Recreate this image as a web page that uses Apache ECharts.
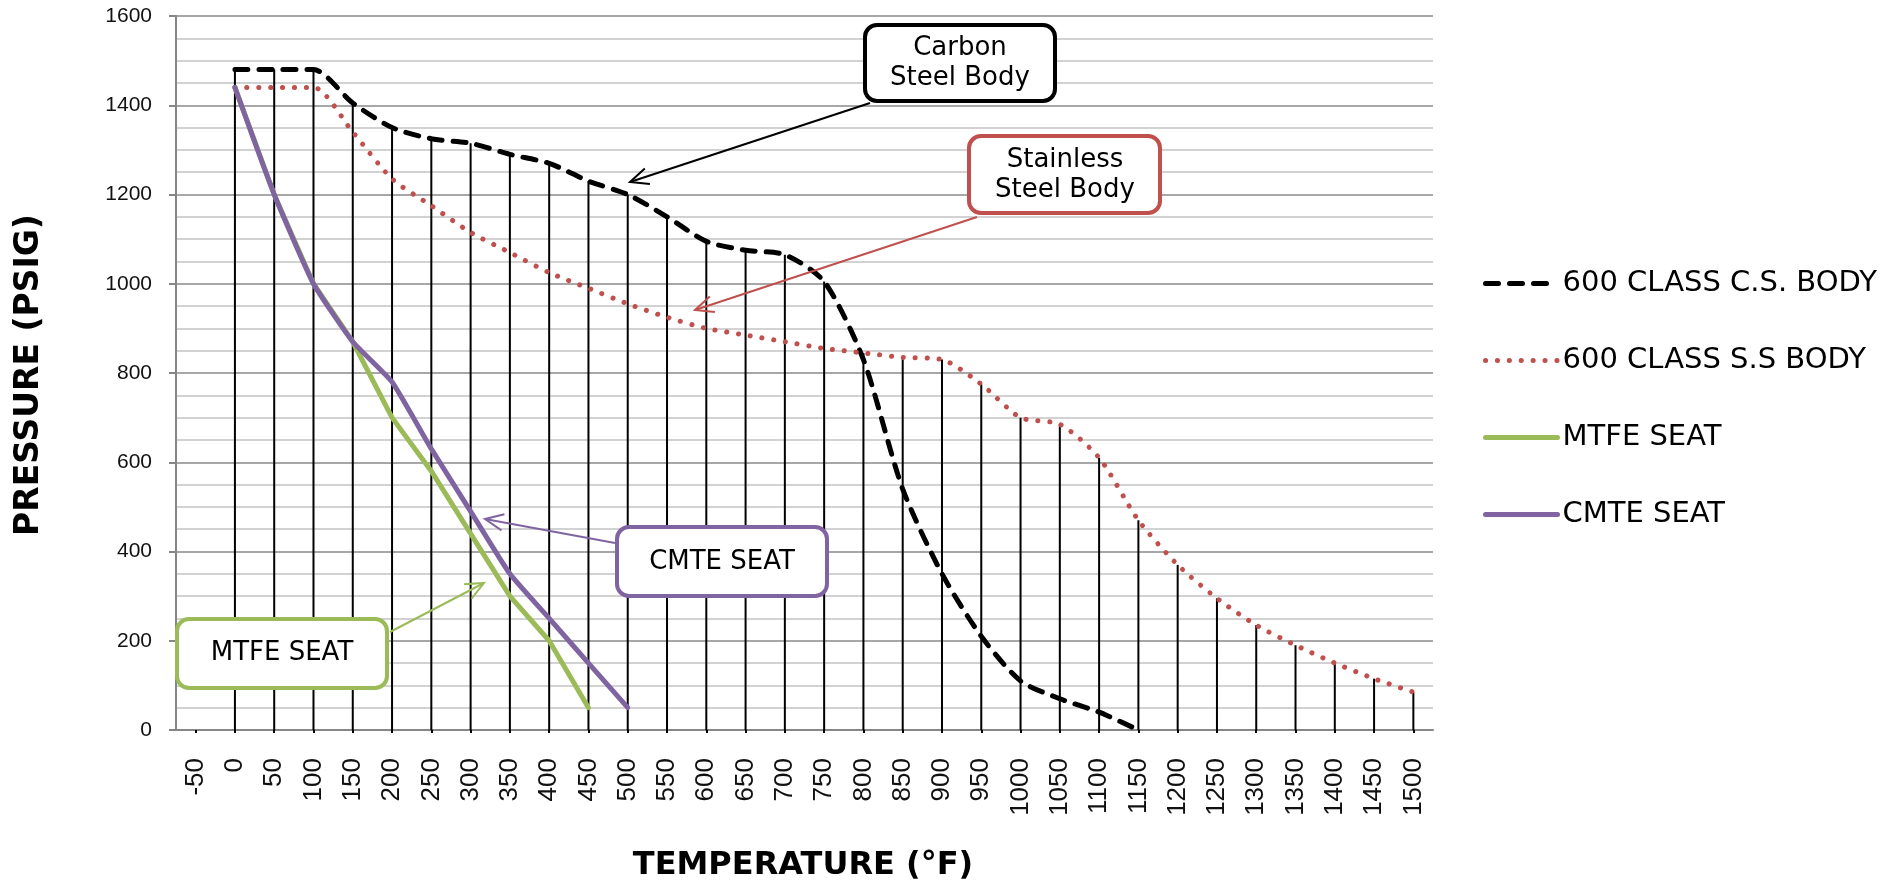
<!DOCTYPE html>
<html><head><meta charset="utf-8">
<script src="https://cdn.jsdelivr.net/npm/echarts@6/dist/echarts.min.js"></script>
<style>html,body{margin:0;padding:0;background:#fff}#c{width:1898px;height:884px}</style>
</head><body><div id="c"></div>
<script>
const categories = ['-50','0','50','100','150','200','250','300','350','400','450','500','550','600','650','700','750','800','850','900','950','1000','1050','1100','1150','1200','1250','1300','1350','1400','1450','1500'];
const csBody = [null,1480,1480,1480,1405,1350,1325,1315,1290,1270,1230,1200,1150,1095,1075,1065,1005,830,540,350,210,110,70,40,0,null,null,null,null,null,null,null];
const ssBody = [null,1440,1440,1440,1340,1235,1175,1115,1070,1025,990,955,925,900,885,870,855,845,835,830,775,700,685,610,470,370,295,235,190,150,115,85];
const mtfeSeat = [null,1440,1200,1000,870,700,580,440,300,200,50,null,null,null,null,null,null,null,null,null,null,null,null,null,null,null,null,null,null,null,null,null];
const cmteSeat = [null,1440,1200,1000,870,780,630,490,350,250,150,50,null,null,null,null,null,null,null,null,null,null,null,null,null,null,null,null,null,null,null,null];
const yTicks = {min:0, max:1600, interval:200};

const dropLines = categories.map((c,i)=>{
  const v=[csBody[i],ssBody[i],mtfeSeat[i],cmteSeat[i]].filter(x=>x!=null);
  return v.length?Math.max(...v):null;
});

function arrow(x1,y1,x2,y2,color,w){
  const a=Math.atan2(y2-y1,x2-x1), L=20, ang=0.42;
  return [
    {type:'line',z:100,shape:{x1,y1,x2,y2},style:{stroke:color,lineWidth:w}},
    {type:'polyline',z:100,shape:{points:[[x2-L*Math.cos(a-ang),y2-L*Math.sin(a-ang)],[x2,y2],[x2-L*Math.cos(a+ang),y2-L*Math.sin(a+ang)]]},style:{stroke:color,lineWidth:w,fill:null}}
  ];
}
function box(x,y,w,h,color,text,cx,cy){
  return [
    {type:'rect',z:101,shape:{x,y,width:w,height:h,r:12},style:{fill:'#fff',stroke:color,lineWidth:4}},
    {type:'text',z:102,x:cx,y:cy,style:{text,fill:'#000',font:'26px "DejaVu Sans"',align:'center',verticalAlign:'middle',lineHeight:30}}
  ];
}

const chart = echarts.init(document.getElementById('c'));
const axisGray='#868686';
chart.setOption({
  animation:false,
  grid:{left:176,right:465,top:16,bottom:154,containLabel:false},
  legend:{
    orient:'vertical',left:1483,top:269,itemWidth:72,itemHeight:14,itemGap:48,padding:0,
    itemStyle:{opacity:0},
    lineStyle:{width:5,cap:'round'},
    data:['600 CLASS C.S. BODY','600 CLASS S.S BODY','MTFE SEAT','CMTE SEAT'],
    textStyle:{fontFamily:'DejaVu Sans',fontSize:29,color:'#000',lineHeight:29}
  },
  xAxis:{
    type:'category',data:categories,boundaryGap:true,
    axisLine:{lineStyle:{color:axisGray,width:2}},
    axisTick:{show:true,alignWithLabel:true,length:3,lineStyle:{color:'#000',width:2}},
    axisLabel:{rotate:90,interval:0,margin:28,fontSize:26,fontFamily:'Liberation Sans',color:'#111'},
    splitLine:{show:false}
  },
  yAxis:{
    type:'value',min:yTicks.min,max:yTicks.max,interval:yTicks.interval,
    axisLine:{show:true,lineStyle:{color:axisGray,width:2}},
    axisTick:{show:true,length:7,lineStyle:{color:axisGray,width:2}},
    axisLabel:{margin:24,fontSize:21,fontFamily:'Liberation Sans',color:'#111',formatter:v=>String(v)},
    splitLine:{lineStyle:{color:'#8a8a8a',width:1.5}},
    minorTick:{show:false,splitNumber:4},
    minorSplitLine:{show:true,lineStyle:{color:'#c4c4c4',width:1.5}}
  },
  series:[
    {name:'drop',type:'bar',data:dropLines,barWidth:2,z:1,itemStyle:{color:'#000'},silent:true},
    {name:'600 CLASS C.S. BODY',type:'line',data:csBody,showSymbol:false,symbol:'none',smooth:0.25,
     lineStyle:{color:'#000',width:5,type:[13,11],cap:'round'},itemStyle:{color:'#000'}},
    {name:'600 CLASS S.S BODY',type:'line',data:ssBody,showSymbol:false,symbol:'none',smooth:0.25,
     lineStyle:{color:'#c0504d',width:5,type:[0.1,11.8],cap:'round'},itemStyle:{color:'#c0504d'}},
    {name:'MTFE SEAT',type:'line',data:mtfeSeat,showSymbol:false,symbol:'none',
     lineStyle:{color:'#9bbb59',width:5,cap:'round'},itemStyle:{color:'#9bbb59'}},
    {name:'CMTE SEAT',type:'line',data:cmteSeat,showSymbol:false,symbol:'none',smooth:0.15,
     lineStyle:{color:'#8064a2',width:5,cap:'round'},itemStyle:{color:'#8064a2'}}
  ],
  graphic:[
    ...arrow(870,103,630,182,'#000',2),
    ...arrow(977,217,695,310,'#c0504d',2),
    ...arrow(615,543,485,519,'#8064a2',2),
    ...arrow(390,632,484,583,'#9bbb59',2),
    ...box(865,25,190,76,'#000','Carbon\nSteel Body',960,63),
    ...box(969,136,191,77,'#c0504d','Stainless\nSteel Body',1065,175),
    ...box(617,527,210,69,'#8064a2','CMTE SEAT',722,562),
    ...box(177,619,210,69,'#9bbb59','MTFE SEAT',282,653),
    {type:'text',x:803,y:866,style:{text:'TEMPERATURE (°F)',fill:'#000',font:'bold 32px "DejaVu Sans"',align:'center',verticalAlign:'middle'}},
    {type:'text',x:29,y:375,rotation:Math.PI/2,style:{text:'PRESSURE (PSIG)',fill:'#000',font:'bold 33px "DejaVu Sans"',align:'center',verticalAlign:'middle'}}
  ]
});
</script></body></html>
